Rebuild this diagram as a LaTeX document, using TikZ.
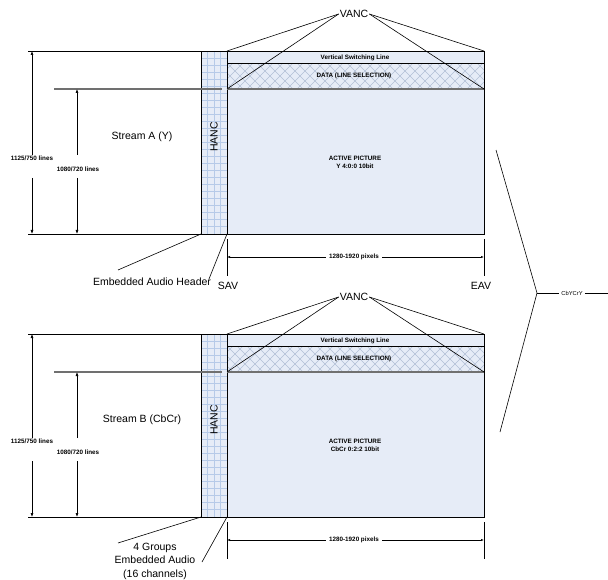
\documentclass[tikz,border=0pt]{standalone}
\usepackage{fontspec}
\setmainfont{Liberation Sans}
\usetikzlibrary{arrows.meta}
\definecolor{boxfill}{HTML}{E6ECF7}
\definecolor{gridc}{HTML}{B6CAE8}
\definecolor{hatchc}{HTML}{B2BFD6}
\definecolor{linegray}{HTML}{707070}
\tikzset{
  lbl/.style={font=\fontsize{10.5}{13.5}\selectfont, inner sep=1pt, align=center},
  tinytxt/.style={font=\fontsize{6.3}{8}\selectfont\bfseries, inner sep=1pt, align=center},
  dimtip/.style={-{Latex[length=4pt,width=3pt]}, line width=0.6pt},
  hdim/.style={{Latex[length=3pt,width=2.2pt]}-{Latex[length=3pt,width=2.2pt]}, line width=0.6pt},
  thin line/.style={line width=0.6pt},
  grayline/.style={linegray, line width=1.3pt},
  leader/.style={line width=0.6pt},
}
\newcommand\myblock[4]{%
\begin{scope}[shift={(0,#2)}]
  \fill[boxfill] (201,51) rectangle (227,234);
  \foreach \gx in {207.5,214,220.5} \draw[gridc,line width=0.6pt] (\gx,51) -- (\gx,234);
  \foreach \gy in {58,65,...,230} \draw[gridc,line width=0.6pt] (201,\gy) -- (227,\gy);
  \draw[thin line] (201,51) rectangle (227,234);
  \node[lbl, rotate=90] (hanc#1) at (214,137) {HANC};
  \fill[boxfill] (227,51) rectangle (484,234);
  \begin{scope}
    \clip (227,63) rectangle (484,89);
    \foreach \k in {-30,-20,...,260} {
      \draw[hatchc,line width=0.5pt] (227+\k,63) -- ++(26,26);
      \draw[hatchc,line width=0.5pt] (227+\k,89) -- ++(26,-26);
    }
  \end{scope}
  \draw[thin line] (227,51) rectangle (484,234);
  \draw[thin line] (227,63) -- (484,63);
  \draw[grayline] (227,89) -- (484,89);
  \coordinate (tl#1) at (227,51);
  \coordinate (ml#1) at (227,89);
  \coordinate (tr#1) at (484,51);
  \coordinate (mr#1) at (484,89);
  \coordinate (bl#1) at (227,234);
  \coordinate (br#1) at (484,234);
  \coordinate (hb#1) at (201,234);
  \node[tinytxt] (vsl#1) at (355,57.5) {Vertical Switching Line};
  \node[tinytxt] (data#1) at (354,76) {DATA (LINE SELECTION)};
  \node[tinytxt] (act#1) at (355,162) {ACTIVE PICTURE\\#4};
  \node[lbl] (vanc#1) at (354,14) {VANC};
  \draw[leader] (vanc#1.west) -- (tl#1);
  \draw[leader] (vanc#1.west) -- (ml#1);
  \draw[leader] (vanc#1.east) -- (tr#1);
  \draw[leader] (vanc#1.east) -- (mr#1);
  \coordinate (e1a#1) at (28,51);   \coordinate (e1b#1) at (201,51);
  \coordinate (e2a#1) at (54,89);   \coordinate (e2b#1) at (222,89);
  \coordinate (e3a#1) at (28,234);  \coordinate (e3b#1) at (201,234);
  \draw[thin line] (e1a#1) -- (e1b#1);
  \draw[grayline] (e2a#1) -- (e2b#1);
  \draw[thin line] (e3a#1) -- (e3b#1);
  \coordinate (v1t#1) at (32,51);  \coordinate (v1g#1) at (32,155);
  \coordinate (v1h#1) at (32,178); \coordinate (v1b#1) at (32,234);
  \coordinate (v2t#1) at (77,89);  \coordinate (v2g#1) at (77,155);
  \coordinate (v2h#1) at (77,178); \coordinate (v2b#1) at (77,234);
  \draw[dimtip] (v1g#1) -- (v1t#1);
  \draw[dimtip] (v1h#1) -- (v1b#1);
  \draw[dimtip] (v2g#1) -- (v2t#1);
  \draw[dimtip] (v2h#1) -- (v2b#1);
  \node[tinytxt] (linesa#1) at (32,158) {1125/750 lines};
  \node[tinytxt] (linesb#1) at (78,169) {1080/720 lines};
  \node[lbl] (stream#1) at (142,137) {#3};
  \coordinate (t1a#1) at (227,239); \coordinate (t1b#1) at (227,276);
  \coordinate (t2a#1) at (484,239); \coordinate (t2b#1) at (484,276);
  \draw[thin line] (t1a#1) -- (t1b#1);
  \draw[thin line] (t2a#1) -- (t2b#1);
  \coordinate (ha#1) at (227,257); \coordinate (hz#1) at (484,257);
  \draw[hdim] (ha#1) -- (hz#1);
  \node[tinytxt, fill=white, inner xsep=3pt] (pix#1) at (354,257) {1280-1920 pixels};
\end{scope}}
\begin{document}
\begin{tikzpicture}[x=1pt,y=-1pt]
\useasboundingbox (0,0) rectangle (608,580);
\fill[white] (0,0) rectangle (608,580);
\myblock{A}{0}{Stream A (Y)}{Y 4:0:0 10bit}
\myblock{B}{283}{Stream B (CbCr)}{CbCr 0:2:2 10bit}
% top block annotations
\node[lbl] (eah) at (152,282) {Embedded Audio Header};
\coordinate (eahL) at (118,270);
\coordinate (eahR) at (209,279);
\draw[leader] (hbA) -- (eahL);
\draw[leader] (blA) -- (eahR);
\node[lbl] (sav) at (228,286) {SAV};
\node[lbl] (eav) at (481,286) {EAV};
% bottom block annotations
\node[lbl] (grp) at (155,561) {4 Groups\\Embedded Audio\\(16 channels)};
\coordinate (grpL) at (118,543);
\coordinate (grpR) at (202,562);
\draw[leader] (hbB) -- (grpL);
\draw[leader] (blB) -- (grpR);
% right bracket
\coordinate (brt) at (496,150);
\coordinate (brm) at (537,293);
\coordinate (brb) at (500,432);
\coordinate (bre) at (608,293);
\node[tinytxt, fill=white, inner xsep=2pt, font=\fontsize{5.8}{7}\selectfont] (cby) at (572,293) {CbYCrY};
\draw[leader] (brt) -- (brm) -- (brb);
\draw[leader] (brm) -- (cby.west);
\draw[leader] (cby.east) -- (bre);
\end{tikzpicture}
\end{document}
